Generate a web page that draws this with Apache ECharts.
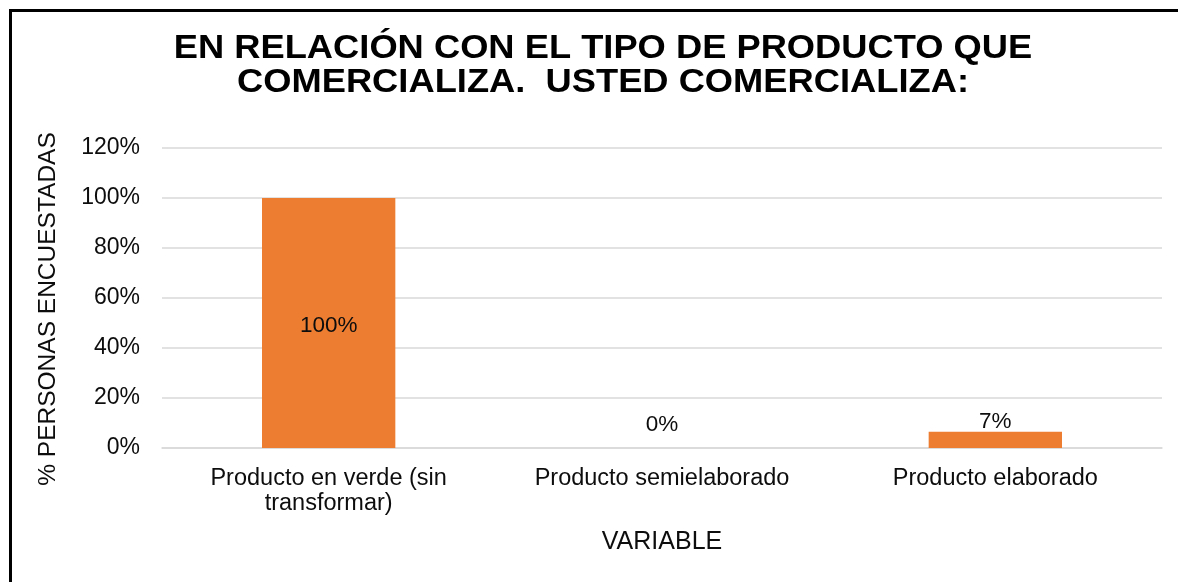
<!DOCTYPE html>
<html>
<head>
<meta charset="utf-8">
<script src="https://cdn.jsdelivr.net/npm/echarts@6/dist/echarts.min.js"></script>
<style>
  html, body { margin: 0; padding: 0; background: #fff; }
  #frame {
    position: absolute; left: 9px; top: 9px;
    width: 1300px; height: 700px;
    border-top: 3px solid #000; border-left: 3px solid #000;
  }
  #chart { position: absolute; left: 0; top: 0; width: 1178px; height: 582px; }
</style>
</head>
<body>
<div id="frame"></div>
<div id="chart"></div>
<script>
// datos del grafico
var chartTitle = 'EN RELACIÓN CON EL TIPO DE PRODUCTO QUE\nCOMERCIALIZA.  USTED COMERCIALIZA:';
var categories = ['Producto en verde (sin\ntransformar)', 'Producto semielaborado', 'Producto elaborado'];
var shares = [1.00, 0.00, 0.065];
var yTicks = [0, 0.2, 0.4, 0.6, 0.8, 1.0, 1.2];

var font = 'Liberation Sans, Arial, sans-serif';

var myChart = echarts.init(document.getElementById('chart'));
var option = {
    animation: false,
    // titulo un poco ensanchado, como en el original
    graphic: [{
        type: 'text',
        x: 603,
        y: 32,
        scaleX: 1.1,
        style: {
            text: chartTitle,
            font: 'bold 33px Liberation Sans, Arial, sans-serif',
            textAlign: 'center',
            textVerticalAlign: 'top',
            lineHeight: 34,
            fill: '#000'
        }
    }],
    grid: { left: 162, right: 16, top: 148, bottom: 134 },
    xAxis: {
        type: 'category',
        data: categories,
        name: 'VARIABLE',
        nameLocation: 'middle',
        nameGap: 82,
        nameTextStyle: { fontFamily: font, fontSize: 25, color: '#0d0d0d' },
        axisLine: { lineStyle: { color: '#d9d9d9', width: 1.5 } },
        axisTick: { show: false },
        axisLabel: {
            fontFamily: font, fontSize: 23.5, color: '#0d0d0d',
            lineHeight: 25, margin: 18
        }
    },
    yAxis: {
        type: 'value',
        min: yTicks[0],
        max: yTicks[yTicks.length - 1],
        interval: 0.2,
        name: '% PERSONAS ENCUESTADAS',
        nameLocation: 'middle',
        nameGap: 101,
        nameTextStyle: { fontFamily: font, fontSize: 24.5, color: '#0d0d0d', padding: [0, 22, 0, 0] },
        axisLine: { show: false },
        axisTick: { show: false },
        splitLine: { lineStyle: { color: '#d9d9d9', width: 1.5 } },
        axisLabel: {
            fontFamily: font, fontSize: 23, color: '#0d0d0d', margin: 22,
            formatter: function (v) { return Math.round(v * 100) + '%'; }
        }
    },
    series: [{
        type: 'bar',
        data: shares.map(function (v, i) {
            return {
                value: v,
                label: i === 0 ? { position: 'inside', offset: [0, 3] } : { position: 'top', distance: i === 1 ? 12 : -2 }
            };
        }),
        barWidth: '40%',
        itemStyle: { color: '#ED7D31' },
        label: {
            show: true,
            fontFamily: font, fontSize: 22.5, color: '#0d0d0d',
            formatter: function (p) { return Math.round(p.value * 100) + '%'; }
        }
    }]
};
myChart.setOption(option);
</script>
</body>
</html>
